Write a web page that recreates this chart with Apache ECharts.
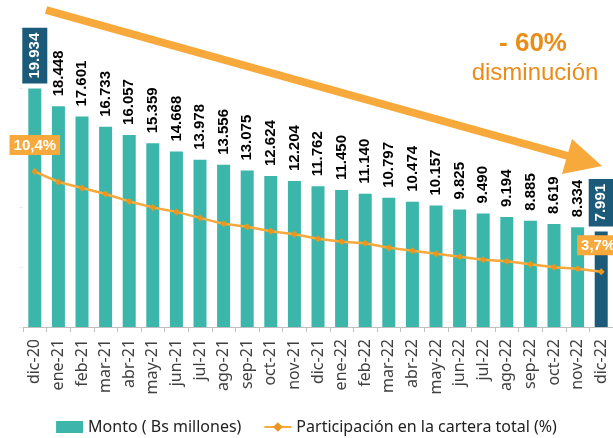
<!DOCTYPE html>
<html>
<head>
<meta charset="utf-8">
<script src="https://cdn.jsdelivr.net/npm/echarts@6/dist/echarts.min.js"></script>
<style>
  html, body { margin: 0; padding: 0; background: #fff; }
  #chart { width: 613px; height: 438px; }
</style>
</head>
<body>
<div id="chart"></div>
<script>
const categories = [
  'dic-20', 'ene-21', 'feb-21', 'mar-21', 'abr-21', 'may-21', 'jun-21', 'jul-21', 'ago-21',
  'sep-21', 'oct-21', 'nov-21', 'dic-21', 'ene-22', 'feb-22', 'mar-22', 'abr-22', 'may-22',
  'jun-22', 'jul-22', 'ago-22', 'sep-22', 'oct-22', 'nov-22', 'dic-22'
]
// Monto (Bs millones)
const montoData = [
  19.934, 18.448, 17.601, 16.733, 16.057, 15.359, 14.668, 13.978, 13.556,
  13.075, 12.624, 12.204, 11.762, 11.450, 11.140, 10.797, 10.474, 10.157,
  9.825, 9.490, 9.194, 8.885, 8.619, 8.334, 7.991
]
// Participación en la cartera total (%)
const partData = [
  10.4, 9.7, 9.3, 8.9, 8.4, 8.0, 7.7, 7.3, 6.9,
  6.7, 6.4, 6.2, 5.9, 5.7, 5.6, 5.3, 5.1, 4.9,
  4.7, 4.5, 4.4, 4.2, 4.0, 3.9, 3.7
]

const TEAL = '#3cb6aa'
const NAVY = '#1b5a78'
const ORANGE = '#f7a93b'
const ORANGE_TXT = '#eb8c17'

const fmtMonto = v => v.toFixed(3)
const fmtPct = v => v.toFixed(1).replace('.', ',') + '%'

const last = montoData.length - 1
const barData = montoData.map((v, i) => {
  const item = { value: v }
  if (i === last) item.itemStyle = { color: NAVY }
  if (i === 0 || i === last) {
    item.label = {
      distance: 5,
      color: '#fff',
      backgroundColor: NAVY,
      padding: [4, 5, 4, 5],
      lineHeight: 17,
    }
  }
  return item
})

const lineData = partData.map((v, i) => {
  const item = { value: v }
  if (i === 0 || i === last) {
    item.label = {
      show: true,
      position: 'top',
      distance: 13,
      formatter: p => fmtPct(p.value),
      color: '#fff',
      fontWeight: 'bold',
      fontSize: 15,
      fontFamily: 'Liberation Sans',
      backgroundColor: ORANGE,
      padding: [3, 4, 2, 4],
      offset: i === last ? [-3, 0] : [0, 0],
    }
  }
  return item
})

const chart = echarts.init(document.getElementById('chart'))
chart.setOption({
  animation: false,
  grid: { left: 23, right: 0, top: 28, bottom: 111 },
  legend: {
    top: 414,
    left: 'center',
    itemGap: 22,
    itemWidth: 27,
    itemHeight: 12,
    textStyle: { fontFamily: 'Noto Sans', fontSize: 16, color: '#222' },
    data: [
      { name: 'Monto ( Bs millones)', icon: 'rect' },
      { name: 'Participación en la cartera total (%)' },
    ],
  },
  xAxis: {
    type: 'category',
    data: categories,
    axisLine: { lineStyle: { color: '#bfbfbf', width: 1 } },
    axisTick: { show: true, length: 5, lineStyle: { color: '#bfbfbf' } },
    axisLabel: {
      rotate: 90,
      margin: 12,
      interval: 0,
      color: '#404040',
      fontFamily: 'Noto Sans',
      fontSize: 16,
    },
  },
  yAxis: [
    {
      type: 'value',
      min: 0,
      max: 25,
      interval: 5,
      axisLine: { show: false },
      axisTick: { show: true, length: 4, lineStyle: { color: '#ececec' } },
      axisLabel: { show: false },
      splitLine: { show: false },
    },
    {
      type: 'value',
      min: 0,
      max: 20,
      interval: 5,
      show: false,
      splitLine: { show: false },
    },
  ],
  series: [
    {
      name: 'Monto ( Bs millones)',
      type: 'bar',
      data: barData,
      barWidth: 13,
      itemStyle: { color: TEAL },
      label: {
        show: true,
        position: 'top',
        rotate: 90,
        align: 'left',
        verticalAlign: 'middle',
        distance: 10,
        formatter: p => fmtMonto(p.value),
        fontFamily: 'Liberation Sans',
        fontWeight: 'bold',
        fontSize: 15,
        color: '#000',
      },
      z: 2,
    },
    {
      name: 'Participación en la cartera total (%)',
      type: 'line',
      yAxisIndex: 1,
      data: lineData,
      symbol: 'diamond',
      symbolSize: 7,
      lineStyle: { color: ORANGE, width: 2.5 },
      itemStyle: { color: '#ea961f' },
      z: 3,
    },
  ],
  graphic: [
    {
      type: 'line',
      shape: { x1: 46, y1: 10, x2: 568, y2: 156 },
      style: { stroke: ORANGE, lineWidth: 8 },
      z: 10,
    },
    {
      type: 'polygon',
      shape: { points: [[572, 139], [602, 166], [562, 174]] },
      style: { fill: ORANGE },
      z: 10,
    },
    {
      type: 'text',
      x: 533,
      y: 44,
      style: {
        text: '- 60%',
        fill: ORANGE_TXT,
        font: 'bold 26px "Liberation Sans"',
        align: 'center',
        verticalAlign: 'middle',
      },
      z: 10,
    },
    {
      type: 'text',
      x: 535,
      y: 73,
      style: {
        text: 'disminución',
        fill: ORANGE_TXT,
        font: '24px "Liberation Sans"',
        align: 'center',
        verticalAlign: 'middle',
      },
      z: 10,
    },
  ],
})
</script>
</body>
</html>
